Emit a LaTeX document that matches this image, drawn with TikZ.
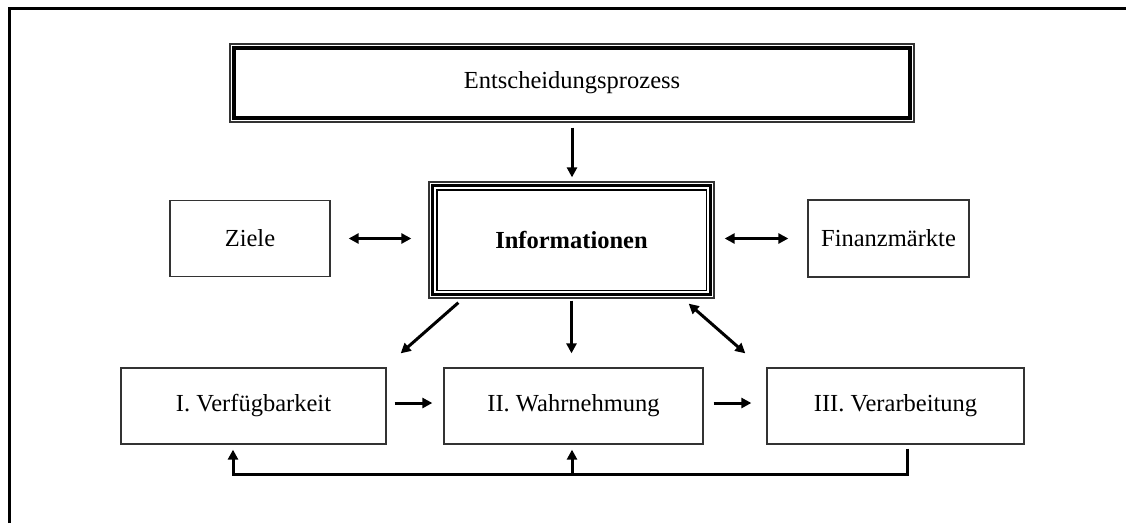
\documentclass[tikz,border=0pt]{standalone}
\usepackage{fontspec}
\setmainfont{Liberation Serif}
\usetikzlibrary{arrows.meta}

\begin{document}
\begin{tikzpicture}[x=1pt,y=-1pt,
    >={Triangle[length=10pt,width=10pt]},
    kasten/.style={draw=black!80,line width=1.3pt,fill=white,inner sep=0pt,
      font=\fontsize{24.5}{29}\selectfont},
    pfeil/.style={line width=3pt}]
    \useasboundingbox (0,0) rectangle (1126,523);
    \draw[line width=3pt] (9,523) -- (9,8) -- (1126,8);

    % obere Reihe
    \node (proz) at (572,83) [kasten,minimum width=684pt,minimum height=78pt] {Entscheidungsprozess};
    \draw[line width=4.5pt] ([shift={(4.5,4.5)}]proz.north west) rectangle ([shift={(-4.5,-4.5)}]proz.south east);

    % mittlere Reihe
    \node (info) at (571.5,240) [kasten,minimum width=285pt,minimum height=116pt] {\textbf{Informationen}};
    \draw[line width=3.5pt] ([shift={(4,4)}]info.north west) rectangle ([shift={(-4,-4)}]info.south east);
    \draw[line width=1.3pt] ([shift={(8.5,8.5)}]info.north west) rectangle ([shift={(-8.5,-8.5)}]info.south east);
    \node (ziele) at (250,238.5) [kasten,minimum width=160pt,minimum height=76pt] {Ziele};
    \node (fin) at (888.5,238.5) [kasten,minimum width=161pt,minimum height=77pt] {Finanzmärkte};

    % untere Reihe
    \node (verf) at (253.5,406) [kasten,minimum width=265pt,minimum height=76pt] {I. Verfügbarkeit};
    \node (wahr) at (573.5,406) [kasten,minimum width=259pt,minimum height=76pt] {II. Wahrnehmung};
    \node (verarb) at (895.5,406) [kasten,minimum width=257pt,minimum height=76pt] {III. Verarbeitung};

    \draw[pfeil,->,shorten <=5pt,shorten >=4pt] (proz.south) -- (proz.south |- info.north);
    \draw[pfeil,<->,shorten <=18pt,shorten >=17pt] (ziele.east) -- (ziele.east -| info.west);
    \draw[pfeil,<->,shorten <=10pt,shorten >=19pt] (info.east |- fin.west) -- (fin.west);

    \draw[pfeil,->] ([shift={(30,4)}]info.south west) -- ([shift={(14,-14)}]verf.north east);
    \draw[pfeil,->,shorten <=2pt,shorten >=14pt] (info.south) -- (info.south |- wahr.north);
    \draw[pfeil,<->] ([shift={(-26,5)}]info.south east) -- ([shift={(-21,-14)}]verarb.north west);

    \draw[pfeil,->,shorten <=8pt,shorten >=11pt] ([yshift=3pt]verf.east) -- ([yshift=3pt]wahr.west);
    \draw[pfeil,->,shorten <=10pt,shorten >=15pt] ([yshift=3pt]wahr.east) -- ([yshift=3pt]verarb.west);

    % Rueckkopplung
    \coordinate (rl) at (233,474);
    \coordinate (rm) at (572,474);
    \draw[pfeil,->,shorten >=5pt] ([shift={(11.5,4)}]verarb.south) |- (rl) -- (rl |- verf.south);
    \draw[pfeil,->,shorten >=5pt] (rm) -- (rm |- wahr.south);

  \end{tikzpicture}
\end{document}
